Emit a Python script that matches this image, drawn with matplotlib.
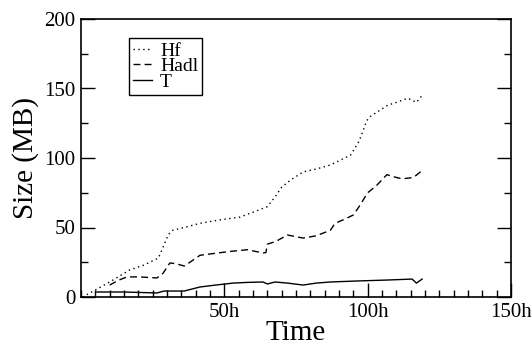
import numpy as np
import matplotlib
matplotlib.use("Agg")
import matplotlib.pyplot as plt
from matplotlib.ticker import MultipleLocator

plt.rcParams['font.family'] = ['Liberation Serif', 'DejaVu Serif']

# values (time in hours, size in MB)
hf_t = [0.5, 5, 11, 17, 22, 27, 30.5, 32, 36, 41.5, 48.5, 55.5, 60, 65, 67.7, 70, 73, 77.5, 82, 87,
        92, 94, 97, 99.7, 101, 104, 107, 110, 114, 117, 119]
hf_v = [0, 5, 12, 19.5, 23, 28, 45, 48, 50, 53, 55.5, 57.5, 61, 65, 72, 79, 84, 90, 92, 95,
        100, 102, 112, 127, 130, 134, 138, 140, 143, 140, 145]

hadl_t = [10, 13, 16, 20, 26.5, 28.6, 31, 33, 36, 38, 41.5, 47, 53, 58, 63.5, 64.5, 65, 68, 72,
          77.5, 82, 87, 88.6, 92, 95, 97, 100, 103, 106.7, 110, 112, 116, 119]
hadl_v = [8.6, 12, 14.4, 14.5, 13.7, 17, 24.5, 24, 22.3, 25, 30, 31.5, 33, 34, 31.7, 32, 38, 40, 44.6,
          42.4, 44, 48, 53, 56, 59, 65, 75, 80, 88, 86, 85, 86, 91]

t_t = [5.5, 15, 26.5, 29, 36, 41.5, 47, 53, 58, 63.5, 65, 67.7, 72, 77.5, 82, 87, 96, 106.7,
       115.5, 117, 119]
t_v = [3.6, 3.6, 2.9, 4.3, 4.3, 7.2, 8.6, 10, 10.5, 10.8, 9.4, 10.8, 10, 8.6, 10, 10.8, 11.5, 12.2,
       12.9, 10, 12.9]

xticks = [50, 100, 150]
xticklabels = ["50h", "100h", "150h"]

fig = plt.figure(figsize=(5.31, 3.47), dpi=100)
ax = fig.add_axes([81/531, 1-297/347, 430/531, 278/347])

ax.plot(hf_t, hf_v, color='black', lw=1.0, linestyle=(0, (1, 2.5)), label='Hf')
ax.plot(hadl_t, hadl_v, color='black', lw=1.0, linestyle=(0, (5, 3)), label='Hadl')
ax.plot(t_t, t_v, color='black', lw=1.0, label='T')

ax.set_xlim(0, 150)
ax.set_ylim(0, 200)
ax.set_xticks(xticks)
ax.set_xticklabels(xticklabels)
ax.set_yticks([0, 50, 100, 150, 200])
ax.xaxis.set_minor_locator(MultipleLocator(5))
ax.yaxis.set_minor_locator(MultipleLocator(25))
ax.tick_params(which='both', direction='in', top=False, right=True, labelsize=15, pad=4)
ax.tick_params(which='major', length=10, width=1)
ax.tick_params(which='minor', length=5, width=1)
for s in ax.spines.values():
    s.set_linewidth(1.2)

ax.set_xlabel('Time', fontsize=21, labelpad=-1)
ax.set_ylabel('Size (MB)', fontsize=21, labelpad=4)

leg = ax.legend(loc='upper left', bbox_to_anchor=(129/531, 1-38/347), bbox_transform=fig.transFigure,
                borderaxespad=0, fontsize=14, handlelength=1.0, handletextpad=0.4,
                labelspacing=-0.1, borderpad=0.2, fancybox=False, framealpha=1)
leg.get_frame().set_edgecolor('black')
leg.get_frame().set_linewidth(1.0)

fig.savefig('out.png', dpi=100)
